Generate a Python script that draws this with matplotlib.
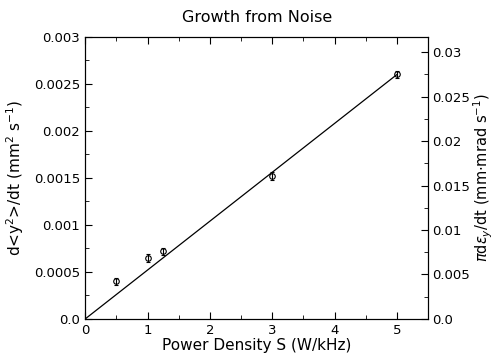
import matplotlib
matplotlib.use("Agg")
import matplotlib.pyplot as plt
from matplotlib.ticker import MultipleLocator

# measured growth rates
power = [0.5, 1.0, 1.25, 3.0, 5.0]
growth = [0.00040, 0.00065, 0.00072, 0.00152, 0.00260]
growth_err = [0.00004, 0.00004, 0.00004, 0.00004, 0.00004]

# linear fit through origin
fit_x = [0.0, 5.0]
fit_y = [0.0, 0.00260]

ratio = 10.57  # right axis scale

plt.rcParams['font.family'] = 'DejaVu Sans'
plt.rcParams['mathtext.fontset'] = 'dejavusans'

fig = plt.figure(figsize=(4.95, 3.58), dpi=100)
ax = fig.add_axes([0.172, 0.109, 0.693, 0.788])

ax.plot(fit_x, fit_y, color='black', lw=0.9)
ax.errorbar(power, growth, yerr=growth_err, fmt='o', mfc='none', mec='black',
            ms=4, mew=0.8, ecolor='black', elinewidth=0.8, capsize=1.5, capthick=0.8)

ax.set_xlim(0, 5.5)
ax.set_ylim(0, 0.003)
ax.xaxis.set_major_locator(MultipleLocator(1))
ax.xaxis.set_minor_locator(MultipleLocator(0.5))
ax.yaxis.set_minor_locator(MultipleLocator(0.00025))
ax.set_yticks([0, 0.0005, 0.001, 0.0015, 0.002, 0.0025, 0.003])
ax.set_yticklabels(['0.0', '0.0005', '0.001', '0.0015', '0.002', '0.0025', '0.003'])
ax.tick_params(which='both', direction='in', top=True, labelsize=9.5)
ax.tick_params(which='major', length=5)
ax.tick_params(which='minor', length=3)

ax.set_title('Growth from Noise', fontsize=11.5, pad=11)
ax.set_xlabel('Power Density S (W/kHz)', fontsize=11, labelpad=1)
ax.set_ylabel(r'd<y$^2$>/dt (mm$^2$ s$^{-1}$)', fontsize=11, labelpad=6)

ax2 = ax.twinx()
ax2.set_ylim(0, 0.003 * ratio)
ax2.set_yticks([0, 0.005, 0.01, 0.015, 0.02, 0.025, 0.03])
ax2.set_yticklabels(['0.0', '0.005', '0.01', '0.015', '0.02', '0.025', '0.03'])
ax2.yaxis.set_minor_locator(MultipleLocator(0.0025))
ax2.tick_params(which='both', direction='in', labelsize=9.5, pad=3)
ax2.tick_params(which='major', length=5)
ax2.tick_params(which='minor', length=3)
ax2.set_ylabel(r'$\pi$d$\epsilon_y$/dt (mm$\cdot$mrad s$^{-1}$)', fontsize=10.5, labelpad=1)

fig.savefig('out.png', dpi=100)
